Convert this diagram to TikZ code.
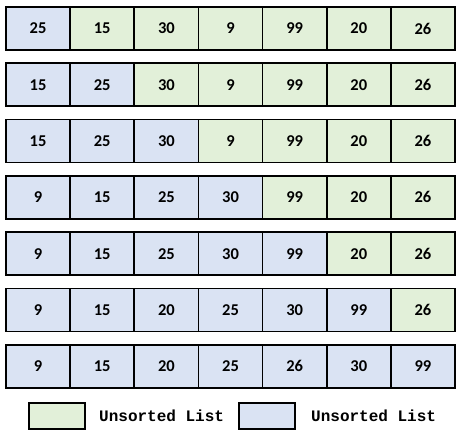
\documentclass[tikz,border=0pt]{standalone}
\usepackage{fontspec}
\setmainfont{Carlito}
\newfontfamily\legendfont{Liberation Mono}
\definecolor{sortblue}{HTML}{DAE3F3}
\definecolor{unsgreen}{HTML}{E2F0D9}
\tikzset{
  cell/.style={draw=black, line width=1.7pt, minimum width=64.15pt, minimum height=43pt, inner sep=0pt, font=\fontsize{16.5}{18}\selectfont\bfseries},
  legbox/.style={draw=black, line width=1.7pt, minimum width=56pt, minimum height=26pt, inner sep=0pt},
  legtext/.style={anchor=west, inner sep=0pt, font=\legendfont\bfseries\fontsize{16}{18}\selectfont}
}
\begin{document}
\begin{tikzpicture}[x=1pt,y=-1pt]
\useasboundingbox (0,0) rectangle (461,440);
\foreach \row/\nb/\vals in {1/1/{25,15,30,9,99,20,26},2/2/{15,25,30,9,99,20,26},3/3/{15,25,30,9,99,20,26},4/4/{9,15,25,30,99,20,26},5/5/{9,15,25,30,99,20,26},6/6/{9,15,20,25,30,99,26},7/7/{9,15,20,25,26,30,99}}{
  \foreach \v [count=\col] in \vals {
    \pgfmathsetmacro{\cx}{6+64.15*(\col-0.5)}
    \pgfmathsetmacro{\cy}{7+56.3*(\row-1)+21.5}
    \ifnum\col>\nb
      \node[cell, fill=unsgreen] (c-\row-\col) at (\cx,\cy) {\v};
    \else
      \node[cell, fill=sortblue] (c-\row-\col) at (\cx,\cy) {\v};
    \fi
  }
}
\node[legbox, fill=unsgreen] (lg1) at (57,416) {};
\node[legtext] (lt1) at (99,416) {Unsorted List};
\node[legbox, fill=sortblue] (lg2) at (267,416) {};
\node[legtext] (lt2) at (311,416) {Unsorted List};
\end{tikzpicture}
\end{document}
